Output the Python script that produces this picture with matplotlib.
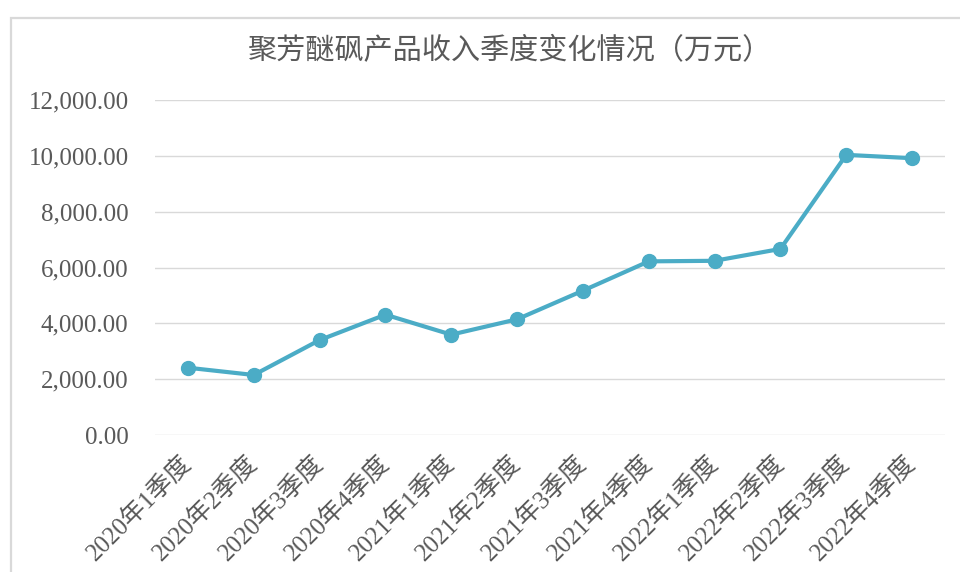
import matplotlib
matplotlib.use("Agg")
import matplotlib.pyplot as plt
from matplotlib.patches import Rectangle
from matplotlib.ticker import FuncFormatter

plt.rcParams['font.family'] = ['Liberation Serif', 'Noto Sans CJK SC', 'DejaVu Sans']

title = "聚芳醚砜产品收入季度变化情况（万元）"
categories = ["2020年1季度", "2020年2季度", "2020年3季度", "2020年4季度",
              "2021年1季度", "2021年2季度", "2021年3季度", "2021年4季度",
              "2022年1季度", "2022年2季度", "2022年3季度", "2022年4季度"]
revenue = [2410, 2150, 3400, 4310, 3595, 4145, 5170, 6220, 6240, 6665, 10035, 9915]
yticks = [0, 2000, 4000, 6000, 8000, 10000, 12000]

text_color = "#595959"
line_color = "#4BACC6"
grid_color = "#D9D9D9"

fig = plt.figure(figsize=(9.6, 5.72), dpi=100)
fig.patch.set_facecolor("white")

# outer chart-area border (cropped at right/bottom in the reference)
fig.patches.append(Rectangle((11 / 960, -0.2), 1.5, 0.2 + 1 - 18 / 572,
                             transform=fig.transFigure, fill=False,
                             edgecolor=grid_color, linewidth=1.6, clip_on=False))

ax = fig.add_axes([155 / 960, 1 - 435 / 572, 790 / 960, 335 / 572])
x = list(range(len(categories)))
ax.plot(x, revenue, color=line_color, linewidth=3.0, marker='o',
        markersize=10, markerfacecolor=line_color, markeredgecolor=line_color,
        zorder=3, solid_capstyle='round', solid_joinstyle='round')

ax.set_xlim(-0.5, len(categories) - 0.5)
ax.set_ylim(0, 12000)
ax.set_yticks(yticks)
ax.yaxis.set_major_formatter(FuncFormatter(lambda v, p: f"{v:,.2f}"))
ax.grid(axis='y', color=grid_color, linewidth=1.0)
ax.set_axisbelow(True)
for s in ax.spines.values():
    s.set_visible(False)

ax.tick_params(axis='y', length=0, pad=19, labelsize=18, labelcolor=text_color)
ax.tick_params(axis='x', length=0, pad=18, labelsize=18, labelcolor=text_color)
ax.set_xticks(x)
ax.set_xticklabels(categories, rotation=45, ha='right', va='center',
                   rotation_mode='anchor')

fig.text(509 / 960, 1 - 51 / 572, title, ha='center', va='center',
         fontsize=21, color=text_color)

fig.savefig("out.png", dpi=100, facecolor="white")
